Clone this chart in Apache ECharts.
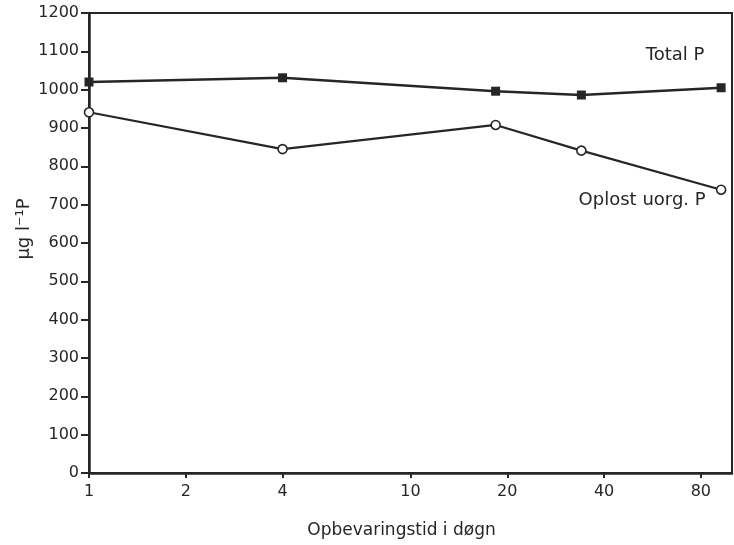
<!DOCTYPE html>
<html>
<head>
<meta charset="utf-8">
<script src="https://cdn.jsdelivr.net/npm/echarts@6/dist/echarts.min.js"></script>
<style>
  html, body { margin: 0; padding: 0; background: #fff; }
  #chart { width: 734px; height: 545px; }
</style>
</head>
<body>
<div id="chart"></div>
<script>
// Storage time in days (log scale) and phosphorus concentrations in µg l⁻¹ P
const days = [1, 4, 18.4, 34, 92.5];
const totalP = [1020, 1031, 996, 986, 1005];
const oplostP = [941, 845, 908, 841, 739];
const xTicks = [1, 2, 4, 10, 20, 40, 80];
const seriesNames = ['Total P', 'Oplost uorg. P'];

const ink = '#262626';
const font = 'DejaVu Sans';

function pairs(xs, ys, labelText, offset) {
  return xs.map((x, i) => {
    const item = { value: [x, ys[i]] };
    if (i === xs.length - 1) {
      item.label = {
        show: true,
        position: 'inside',
        offset: offset,
        formatter: labelText,
        color: ink,
        fontFamily: font,
        fontSize: 18
      };
    }
    return item;
  });
}

const chart = echarts.init(document.getElementById('chart'));
chart.setOption({
  animation: false,
  grid: {
    left: 89, right: 2, top: 13, bottom: 72,
    show: true, borderColor: ink, borderWidth: 2, backgroundColor: 'transparent'
  },
  xAxis: {
    type: 'log',
    logBase: 10,
    min: 1,
    max: 100,
    name: 'Opbevaringstid i døgn',
    nameLocation: 'middle',
    nameGap: 49,
    nameTextStyle: { color: ink, fontFamily: font, fontSize: 17, padding: [0, 18, 0, 0] },
    axisLine: { show: true, lineStyle: { color: ink, width: 2.5 } },
    axisTick: { show: true, length: 5, lineStyle: { color: ink, width: 2 }, customValues: xTicks },
    axisLabel: { color: ink, fontFamily: font, fontSize: 16, margin: 11, customValues: xTicks },
    splitLine: { show: false },
    minorTick: { show: false }
  },
  yAxis: {
    type: 'value',
    min: 0,
    max: 1200,
    interval: 100,
    name: 'µg l⁻¹P',
    nameLocation: 'middle',
    nameRotate: 90,
    nameGap: 56,
    nameMoveOverlap: false,
    nameTextStyle: { color: ink, fontFamily: font, fontSize: 18, padding: [0, 0, 0, 28] },
    axisLine: { show: true, lineStyle: { color: ink, width: 2.5 } },
    axisTick: { show: true, length: 8, lineStyle: { color: ink, width: 2 } },
    axisLabel: { color: ink, fontFamily: font, fontSize: 16, margin: 10, formatter: v => String(v) },
    splitLine: { show: false }
  },
  series: [
    {
      name: seriesNames[0],
      type: 'line',
      data: pairs(days, totalP, seriesNames[0], [-46, -32]),
      symbol: 'rect',
      symbolSize: 9,
      lineStyle: { color: ink, width: 2.5 },
      itemStyle: { color: ink, borderColor: ink, borderWidth: 0 }
    },
    {
      name: seriesNames[1],
      type: 'line',
      data: pairs(days, oplostP, seriesNames[1], [-79, 11]),
      symbol: 'circle',
      symbolSize: 9,
      showAllSymbol: true,
      lineStyle: { color: ink, width: 2.2 },
      itemStyle: { color: '#fff', borderColor: ink, borderWidth: 1.6 }
    }
  ]
});
</script>
</body>
</html>
